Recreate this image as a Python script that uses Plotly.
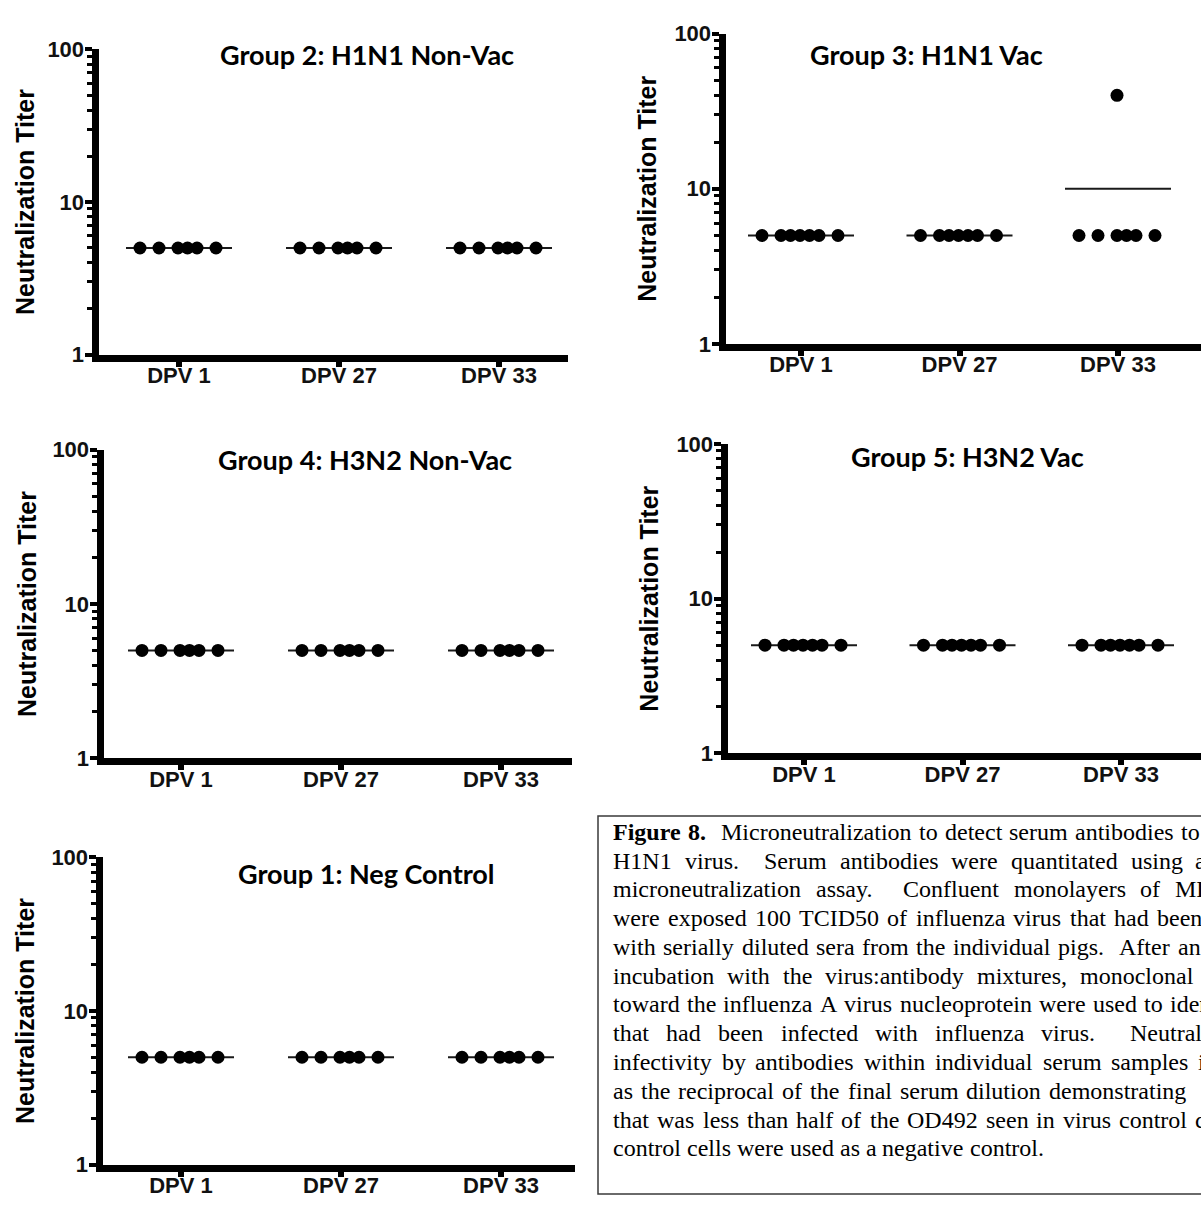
import plotly.graph_objects as go

W, H = 1201, 1211

# ---------------- data ----------------
CATEGORIES = ["DPV 1", "DPV 27", "DPV 33"]
Y_TICK_VALUES = [1, 10, 100]
Y_TICK_TEXT = ["1", "10", "100"]
Y_MINOR_VALUES = [2, 3, 4, 5, 6, 7, 8, 9, 20, 30, 40, 50, 60, 70, 80, 90]
Y_TITLE = "Neutralization Titer"

# Group 2: H1N1 Non-Vac (6 pigs)
G2_DPV1 = [5, 5, 5, 5, 5, 5]
G2_DPV27 = [5, 5, 5, 5, 5, 5]
G2_DPV33 = [5, 5, 5, 5, 5, 5]
# Group 3: H1N1 Vac (7 pigs)
G3_DPV1 = [5, 5, 5, 5, 5, 5, 5]
G3_DPV27 = [5, 5, 5, 5, 5, 5, 5]
G3_DPV33 = [5, 5, 5, 40, 5, 5, 5]
# Group 4: H3N2 Non-Vac (6 pigs)
G4_DPV1 = [5, 5, 5, 5, 5, 5]
G4_DPV27 = [5, 5, 5, 5, 5, 5]
G4_DPV33 = [5, 5, 5, 5, 5, 5]
# Group 5: H3N2 Vac (7 pigs)
G5_DPV1 = [5, 5, 5, 5, 5, 5, 5]
G5_DPV27 = [5, 5, 5, 5, 5, 5, 5]
G5_DPV33 = [5, 5, 5, 5, 5, 5, 5]
# Group 1: Neg Control (6 pigs)
G1_DPV1 = [5, 5, 5, 5, 5, 5]
G1_DPV27 = [5, 5, 5, 5, 5, 5]
G1_DPV33 = [5, 5, 5, 5, 5, 5]

TITLES = ["Group 2: H1N1 Non-Vac", "Group 3: H1N1 Vac", "Group 4: H3N2 Non-Vac",
          "Group 5: H3N2 Vac", "Group 1: Neg Control"]
PANEL_DATA = [
    [G2_DPV1, G2_DPV27, G2_DPV33],
    [G3_DPV1, G3_DPV27, G3_DPV33],
    [G4_DPV1, G4_DPV27, G4_DPV33],
    [G5_DPV1, G5_DPV27, G5_DPV33],
    [G1_DPV1, G1_DPV27, G1_DPV33],
]

CAPTION_LINES = [
    "Figure 8.  Microneutralization to detect serum antibodies to",
    "H1N1 virus.  Serum antibodies were quantitated using a",
    "microneutralization assay.  Confluent monolayers of MDCK",
    "were exposed 100 TCID50 of influenza virus that had been",
    "with serially diluted sera from the individual pigs.  After an",
    "incubation with the virus:antibody mixtures, monoclonal",
    "toward the influenza A virus nucleoprotein were used to identify",
    "that had been infected with influenza virus.  Neutralization",
    "infectivity by antibodies within individual serum samples is",
    "as the reciprocal of the final serum dilution demonstrating",
    "that was less than half of the OD492 seen in virus control cells",
    "control cells were used as a negative control.",
]
CAPTION_BOLD_TOKENS = 2  # "Figure 8." on first line

# ---------------- layout / style ----------------
# pixel geometry of each panel
PANELS = [
    dict(yax=95, xend=568, t0=179, step=160, y1=350, y100=38, tx=367, ty=43, lx=25),
    dict(yax=722, xend=1201, t0=801, step=158.5, y1=339, y100=22, tx=926, ty=43, lx=647),
    dict(yax=100, xend=572, t0=181, step=160, y1=762, y100=447, tx=365, ty=457, lx=27),
    dict(yax=724, xend=1201, t0=804, step=158.5, y1=757, y100=441, tx=967, ty=454, lx=649),
    dict(yax=99, xend=575, t0=181, step=160, y1=1177, y100=863, tx=366, ty=880, lx=25),
]
LW = 7
DOT_STEP_PX = 19
DOT_SHIFT_PX = -1
SLOT_PATTERNS = {1: [0], 6: [-2, -1, 0, 0.5, 1, 2], 7: [-2, -1, -0.5, 0, 0.5, 1, 2]}
MEAN_HALF_PX = 53
DOT_SIZE = 13

SANS = "Liberation Sans, Arial, sans-serif"
SERIF = "Liberation Serif, Times New Roman, serif"
TITLE_FONT = "Lato, Carlito, sans-serif"

CAP_FONT_SIZE = 24
CAP_LEFT = 612
CAP_TOP_LINE = 837
CAP_LINE_STEP = 29.4
CAP_GAPS = [7.3, 12.9, 14.7, 8.3, 7.6, 12.9, 7.2, 17.2, 9.9, 8.0, 8.1, 6.0]
CAP_BOX = dict(x0=598, y0=821, y1=1207)

# Times (Liberation Serif) advance widths per 1000 em
TIMES = {' ': 250, '.': 250, ',': 250, ':': 278, '-': 333,
         '0': 500, '1': 500, '2': 500, '3': 500, '4': 500, '5': 500, '6': 500, '7': 500, '8': 500, '9': 500,
         'A': 722, 'B': 667, 'C': 667, 'D': 722, 'E': 611, 'F': 556, 'G': 722, 'H': 722, 'I': 333,
         'J': 389, 'K': 722, 'L': 611, 'M': 889, 'N': 722, 'O': 722, 'P': 556, 'Q': 722, 'R': 667,
         'S': 556, 'T': 611, 'U': 722, 'V': 722, 'W': 944, 'X': 722, 'Y': 722, 'Z': 611,
         'a': 444, 'b': 500, 'c': 444, 'd': 500, 'e': 444, 'f': 333, 'g': 500, 'h': 500, 'i': 278,
         'j': 278, 'k': 500, 'l': 278, 'm': 778, 'n': 500, 'o': 500, 'p': 500, 'q': 500, 'r': 333,
         's': 389, 't': 278, 'u': 500, 'v': 500, 'w': 722, 'x': 500, 'y': 500, 'z': 444}
TIMES_BOLD = dict(TIMES)
TIMES_BOLD.update({'F': 611, 'u': 556, 'r': 444})


def text_width(s, bold=False):
    table = TIMES_BOLD if bold else TIMES
    return sum(table.get(c, 500) for c in s) * CAP_FONT_SIZE / 1000.0


def px(x):
    return x / W


def py(y):
    return 1 - y / H


fig = go.Figure()
layout = dict(
    width=W, height=H, margin=dict(l=0, r=0, t=0, b=0),
    paper_bgcolor="white", plot_bgcolor="white", showlegend=False,
)
annotations = []

for k, (p, data, title) in enumerate(zip(PANELS, PANEL_DATA, TITLES)):
    n = "" if k == 0 else str(k + 1)
    xa, ya = "x" + n, "y" + n
    step = p["step"]
    xs, ys = [], []
    for ci, vals in enumerate(data):
        groups = {}
        for v in vals:
            groups[v] = groups.get(v, 0) + 1
        for v, cnt in groups.items():
            slots = SLOT_PATTERNS.get(cnt, [0] * cnt)
            for s in slots:
                xs.append(ci + (s * DOT_STEP_PX + DOT_SHIFT_PX) / step)
                ys.append(v)
        mean = sum(vals) / len(vals)
        half = MEAN_HALF_PX / step
        fig.add_trace(go.Scatter(x=[ci - half, ci + half], y=[mean, mean], mode="lines",
                                 line=dict(color="#1a1a1a", width=2), xaxis=xa, yaxis=ya,
                                 hoverinfo="skip"))
    fig.add_trace(go.Scatter(x=xs, y=ys, mode="markers",
                             marker=dict(size=DOT_SIZE, color="black"), xaxis=xa, yaxis=ya))

    x0 = p["yax"] + LW / 2
    x1 = p["xend"]
    layout["xaxis" + n] = dict(
        domain=[px(x0), min(px(x1), 1.0)],
        range=[(x0 - p["t0"]) / step, (x1 - p["t0"]) / step],
        tickmode="array", tickvals=[0, 1, 2], ticktext=CATEGORIES,
        showline=True, linewidth=LW, linecolor="black",
        ticks="outside", ticklen=5, tickwidth=6, tickcolor="black",
        showgrid=False, zeroline=False, anchor=ya, fixedrange=True,
        tickfont=dict(family=SANS, size=22, color="#111", weight="bold"),
        ticklabelstandoff=-10,
    )
    layout["yaxis" + n] = dict(
        domain=[py(p["y1"]), py(p["y100"])],
        type="log", range=[0, 2],
        tickmode="array", tickvals=Y_TICK_VALUES, ticktext=Y_TICK_TEXT,
        showline=True, linewidth=LW, linecolor="black",
        ticks="outside", ticklen=7, tickwidth=4, tickcolor="black",
        minor=dict(tickmode="array", tickvals=Y_MINOR_VALUES, ticks="outside",
                   ticklen=5, tickwidth=3, tickcolor="black"),
        showgrid=False, zeroline=False, anchor=xa, fixedrange=True,
        tickfont=dict(family=SANS, size=22, color="#111", weight="bold"),
        ticklabelstandoff=-4,
    )
    annotations.append(dict(text=title, x=px(p["tx"]), y=py(p["ty"]), xref="paper", yref="paper",
                            showarrow=False, xanchor="center", yanchor="middle",
                            font=dict(family=TITLE_FONT, size=27, color="black", weight="bold")))
    annotations.append(dict(text=Y_TITLE, x=px(p["lx"]), y=py((p["y1"] + p["y100"]) / 2),
                            xref="paper", yref="paper", showarrow=False, textangle=-90,
                            xanchor="center", yanchor="middle",
                            font=dict(family=SANS, size=25, color="black", weight="bold")))

# caption (justified lines, placed word by word)
for li, (line, gap) in enumerate(zip(CAPTION_LINES, CAP_GAPS)):
    y = CAP_TOP_LINE + li * CAP_LINE_STEP
    x = CAP_LEFT
    word_i = 0
    for tok in line.split(" "):
        if tok == "":
            x += gap
            continue
        bold = (li == 0 and word_i < CAPTION_BOLD_TOKENS)
        if x < W:
            annotations.append(dict(text=("<b>%s</b>" % tok) if bold else tok,
                                    x=px(x), y=py(y), xref="paper", yref="paper",
                                    showarrow=False, xanchor="left", yanchor="middle", borderpad=0,
                                    font=dict(family=SERIF, size=CAP_FONT_SIZE, color="black")))
        x += text_width(tok, bold) + gap
        word_i += 1

layout["annotations"] = annotations
layout["shapes"] = [dict(type="rect", xref="paper", yref="paper",
                         x0=px(CAP_BOX["x0"]), x1=1.05, y0=py(CAP_BOX["y1"]), y1=py(CAP_BOX["y0"]),
                         line=dict(color="#3a3a3a", width=1.5), fillcolor="rgba(0,0,0,0)")]
fig.update_layout(**layout)
fig.write_html("out.html")
